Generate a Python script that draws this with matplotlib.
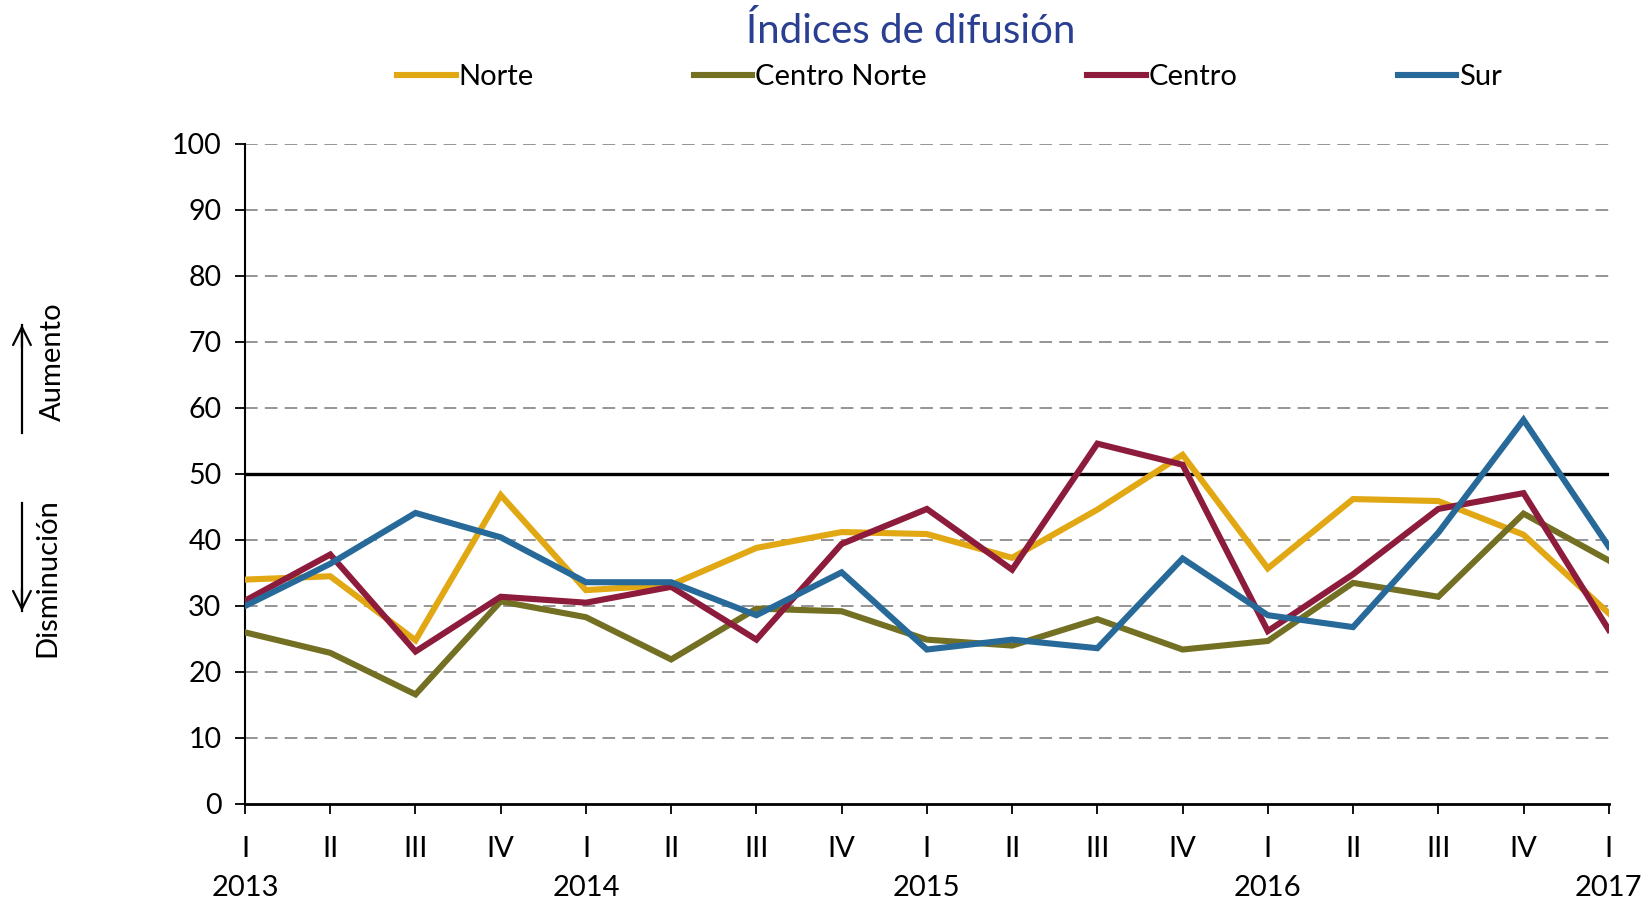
import matplotlib.pyplot as plt
import numpy as np

plt.rcParams['font.family'] = ['Lato', 'DejaVu Sans']

# quarters from 2013-I to 2017-I
quarters = ["I", "II", "III", "IV", "I", "II", "III", "IV", "I", "II", "III", "IV",
            "I", "II", "III", "IV", "I"]
years = {0: "2013", 4: "2014", 8: "2015", 12: "2016", 16: "2017"}

norte = [34.0, 34.5, 24.8, 46.8, 32.4, 33.2, 38.8, 41.2, 40.9, 37.3, 44.6, 52.9,
         35.7, 46.2, 45.9, 40.8, 28.9]
centro_norte = [26.0, 22.9, 16.6, 30.7, 28.3, 21.9, 29.6, 29.2, 24.9, 24.0, 28.0, 23.4,
                24.7, 33.5, 31.4, 44.0, 36.9]
centro = [30.8, 37.8, 23.1, 31.4, 30.5, 32.9, 24.9, 39.4, 44.7, 35.5, 54.6, 51.4,
          26.2, 34.8, 44.7, 47.1, 26.4]
sur = [30.0, 36.4, 44.1, 40.4, 33.6, 33.6, 28.6, 35.1, 23.4, 24.9, 23.6, 37.2,
       28.6, 26.8, 41.1, 58.2, 39.0]

series = [
    ("Norte", norte, "#E2A813"),
    ("Centro Norte", centro_norte, "#737024"),
    ("Centro", centro, "#8D1B3C"),
    ("Sur", sur, "#276A9A"),
]

fig = plt.figure(figsize=(16.5, 9), dpi=100)
ax = fig.add_axes([0.1485, 0.1067, 0.8265, 0.7333])

x = np.arange(len(quarters))

# grid lines
for v in range(10, 101, 10):
    if v == 50:
        continue
    ax.axhline(v, color="#8c8c8c", lw=1.3, dashes=(7, 4), zorder=1)
ax.axhline(50, color="black", lw=2.4, zorder=2)

for name, vals, col in series:
    ax.plot(x, vals, color=col, lw=4.4, label=name, zorder=3, solid_joinstyle="miter")

ax.set_xlim(0, 16)
ax.set_ylim(0, 100)
ax.set_yticks(range(0, 101, 10))
ax.set_xticks(x)
labels = [q + ("\n" + years[i] if i in years else "") for i, q in enumerate(quarters)]
ax.set_xticklabels(labels, linespacing=1.6)
ax.tick_params(axis="both", width=1.3, length=7, direction="out")
ax.tick_params(axis="x", pad=16, labelsize=21)
ax.tick_params(axis="y", pad=10, labelsize=20.5)
for s in ["top", "right"]:
    ax.spines[s].set_visible(False)
ax.spines["left"].set_linewidth(1.5)
ax.spines["bottom"].set_linewidth(2.0)

fig.text(0.552, 0.966, "Índices de difusión", ha="center", va="center",
         fontsize=29, color="#2A3F92")

fig.legend(loc="center", bbox_to_anchor=(0.5755, 0.914), ncol=4, frameon=False,
           fontsize=21, handlelength=2.0, handletextpad=0.1, columnspacing=5.5)

# side annotations
fig.text(0.032, 1 - 362 / 900, "Aumento", rotation=90, ha="center", va="center", fontsize=21)
fig.text(0.029, 1 - 578 / 900, "Disminución", rotation=90, ha="center", va="center", fontsize=21)
fig.add_artist(plt.Line2D([0.0133, 0.0133], [1 - 433 / 900, 1 - 325 / 900], color="black", lw=1.6))
fig.add_artist(plt.Line2D([0.0133, 0.0133], [1 - 503 / 900, 1 - 611 / 900], color="black", lw=1.6))
ax.annotate("", xy=(0.0133, 1 - 322 / 900), xytext=(0.0133, 1 - 350 / 900),
            xycoords="figure fraction",
            arrowprops=dict(arrowstyle="->", lw=1.6, color="black", mutation_scale=32))
ax.annotate("", xy=(0.0133, 1 - 614 / 900), xytext=(0.0133, 1 - 586 / 900),
            xycoords="figure fraction",
            arrowprops=dict(arrowstyle="->", lw=1.6, color="black", mutation_scale=32))

fig.savefig("out.png", dpi=100)
